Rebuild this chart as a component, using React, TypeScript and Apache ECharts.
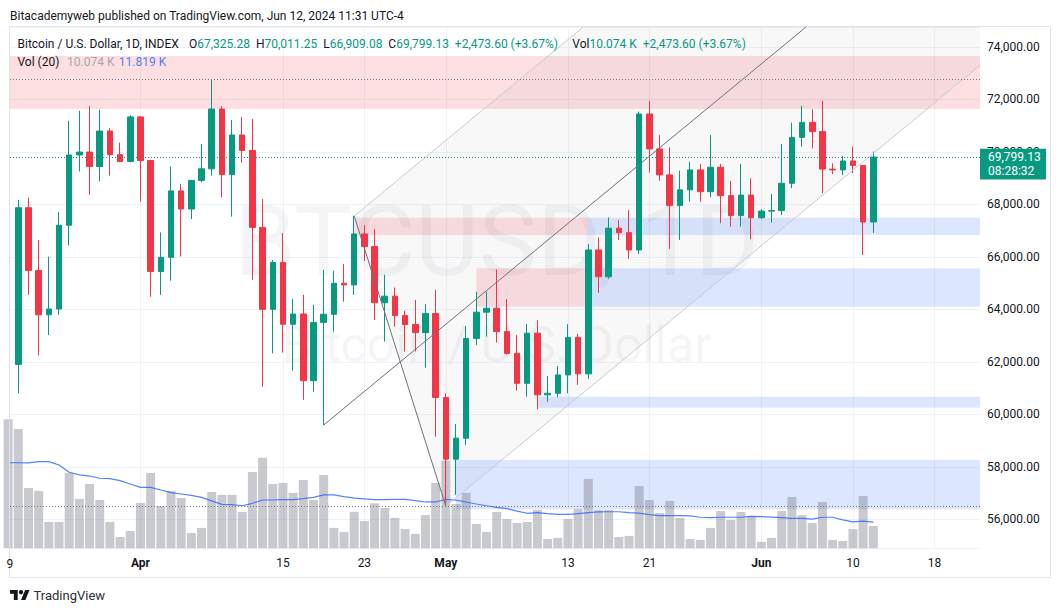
import React, { useEffect, useRef } from 'react';
import * as echarts from 'echarts';

// ---------------- data ----------------
const dates = [
  '2024-03-19','2024-03-20','2024-03-21','2024-03-22','2024-03-23','2024-03-24','2024-03-25','2024-03-26','2024-03-27','2024-03-28','2024-03-29','2024-03-30','2024-03-31',
  '2024-04-01','2024-04-02','2024-04-03','2024-04-04','2024-04-05','2024-04-06','2024-04-07','2024-04-08','2024-04-09','2024-04-10','2024-04-11','2024-04-12','2024-04-13','2024-04-14','2024-04-15',
  '2024-04-16','2024-04-17','2024-04-18','2024-04-19','2024-04-20','2024-04-21','2024-04-22','2024-04-23','2024-04-24','2024-04-25','2024-04-26','2024-04-27','2024-04-28','2024-04-29','2024-04-30',
  '2024-05-01','2024-05-02','2024-05-03','2024-05-04','2024-05-05','2024-05-06','2024-05-07','2024-05-08','2024-05-09','2024-05-10','2024-05-11','2024-05-12','2024-05-13','2024-05-14','2024-05-15',
  '2024-05-16','2024-05-17','2024-05-18','2024-05-19','2024-05-20','2024-05-21','2024-05-22','2024-05-23','2024-05-24','2024-05-25','2024-05-26','2024-05-27','2024-05-28','2024-05-29','2024-05-30','2024-05-31',
  '2024-06-01','2024-06-02','2024-06-03','2024-06-04','2024-06-05','2024-06-06','2024-06-07','2024-06-08','2024-06-09','2024-06-10','2024-06-11','2024-06-12',
];

const opens = [
  67600, 61900, 67870, 65480, 63790, 64010, 67200, 69880, 69990, 69440, 70790, 69890, 69630,
  71330, 69670, 65440, 65980, 68510, 67820, 68910, 69350, 71630, 69130, 70640, 70050, 67120, 64000, 65780,
  63430, 63820, 61280, 63500, 63810, 64990, 64930, 66870, 66390, 64250, 64500, 63760, 63420, 63110, 63840,
  60640, 58290, 59090, 62890, 63890, 64040, 63150, 62320, 61180, 63090, 60740, 60800, 61500, 62930, 61540,
  66260, 65240, 67090, 66920, 66260, 71440, 70110, 69120, 67950, 68550, 69310, 68480, 69410, 68330, 67570, 68350,
  67490, 67740, 67760, 68800, 70550, 71120, 70770, 69340, 69310, 69650, 69480, 67325.28,
];
const highs = [
  68100, 68170, 68250, 66640, 66000, 67700, 71180, 71560, 71750, 71600, 70900, 70350, 71400,
  71350, 69690, 66930, 69440, 68780, 68930, 70300, 72760, 71740, 71210, 71330, 71250, 68200, 65880, 66900,
  64390, 64550, 64170, 65500, 65470, 65730, 67560, 67210, 67050, 65310, 64830, 63950, 64360, 64200, 64740,
  60800, 59630, 63360, 64670, 64670, 65520, 64390, 63020, 63440, 63590, 61460, 61840, 63430, 63060, 66490,
  66740, 67500, 67400, 67780, 71530, 71940, 70640, 70170, 69280, 69620, 69540, 70640, 69540, 68890, 69540, 68990,
  67820, 68390, 70300, 71110, 71750, 71620, 71940, 69560, 69840, 70200, 69500, 70011.25,
];
const lows = [
  61550, 60800, 64550, 62240, 63020, 63790, 66430, 69250, 68360, 68870, 69090, 69600, 69600,
  68100, 64480, 64550, 65090, 66010, 67440, 68840, 69090, 68260, 67530, 69590, 65120, 61050, 62320, 62350,
  61660, 60550, 60860, 59590, 63150, 64290, 64550, 65840, 63590, 62770, 63340, 62390, 62390, 61780, 59150,
  56500, 56930, 58830, 62640, 62960, 62730, 62280, 60900, 60670, 60190, 60480, 60650, 60800, 61120, 61350,
  64630, 65160, 66640, 65920, 66110, 69210, 68900, 66300, 66640, 68100, 68100, 68270, 67280, 67150, 67150, 66670,
  67430, 67300, 67590, 68610, 70200, 70130, 68420, 69150, 69120, 69180, 66070, 66909.08,
];
const closes = [
  61900, 67870, 65480, 63790, 64010, 67200, 69880, 69990, 69440, 70790, 69890, 69630, 71330,
  69670, 65440, 65980, 68510, 67820, 68910, 69350, 71630, 69130, 70640, 70050, 67120, 64000, 65780, 63430,
  63820, 61280, 63500, 63810, 64990, 64930, 66870, 66390, 64250, 64500, 63760, 63420, 63110, 63840, 60640,
  58290, 59090, 62890, 63890, 64040, 63150, 62320, 61180, 63090, 60740, 60800, 61500, 62930, 61540, 66260,
  65240, 67090, 66920, 66260, 71440, 70110, 69120, 67950, 68550, 69310, 68480, 69410, 68330, 67570, 68350, 67490,
  67740, 67760, 68800, 70550, 71120, 70770, 69340, 69310, 69650, 69480, 67325.53, 69799.13,
];

// volume in thousands
const volumes = [
  58.2, 53.8, 27.2, 25.9, 11.9, 11.9, 34.0, 22.3, 29.0, 21.8, 11.9, 5.1, 7.8,
  20.5, 34.0, 19.1, 25.9, 22.7, 6.9, 9.2, 25.4, 24.1, 24.1, 16.4, 34.4, 40.8, 29.0, 29.5,
  25.0, 30.8, 21.8, 33.1, 9.2, 7.4, 16.4, 12.3, 20.3, 18.2, 13.7, 8.7, 6.5, 15.0, 29.5,
  39.5, 20.0, 25.0, 11.0, 7.4, 16.4, 13.2, 11.4, 11.9, 17.3, 4.2, 4.7, 13.2, 17.7, 31.3,
  17.3, 17.3, 5.1, 5.6, 28.1, 21.8, 15.9, 21.4, 13.7, 4.2, 3.8, 9.2, 16.8, 12.8, 16.4, 14.6,
  2.9, 4.7, 16.8, 23.2, 15.0, 11.4, 20.9, 3.8, 3.3, 8.7, 23.6, 10.074,
];
// Vol (20) moving average
const volumeMA20 = [
  38.6, 38.6, 38.5, 39.1, 39.1, 37.6, 34.3, 33.1, 32.6, 31.6, 31.4, 30.5, 29.0,
  27.5, 27.5, 26.3, 25.1, 24.5, 23.9, 23.0, 21.4, 19.8, 19.7, 19.2, 20.3, 21.8, 21.8, 22.0,
  22.0, 22.4, 23.0, 24.1, 24.1, 23.3, 22.6, 22.3, 22.0, 22.0, 22.1, 22.1, 21.5, 20.9, 20.9,
  22.1, 21.7, 20.9, 20.0, 19.2, 18.5, 17.9, 16.8, 15.8, 16.1, 15.6, 15.3, 15.3, 15.6, 16.1,
  16.4, 16.5, 16.5, 16.1, 15.9, 15.2, 14.7, 14.7, 14.7, 14.6, 14.0, 13.8, 14.0, 14.0, 14.0, 14.4,
  14.3, 14.1, 13.8, 13.5, 13.5, 13.2, 14.0, 14.0, 12.8, 11.9, 12.3, 11.819,
];

const timeTickDates = ['2024-04-01', '2024-04-15', '2024-04-23', '2024-05-01', '2024-05-13', '2024-05-21', '2024-06-01', '2024-06-10', '2024-06-18'];
const timeTickLabels = ['Apr', '15', '23', 'May', '13', '21', 'Jun', '10', '18'];
const monthLabels = ['Apr', 'May', 'Jun'];

// zones: [fromDate (null = left edge), toDate (null = right edge), low, high]
const resistanceZones: [string | null, string | null, number, number][] = [
  [null, null, 71630, 73650],
  ['2024-04-22', '2024-05-15', 66830, 67490],
  ['2024-05-04', '2024-05-15', 64100, 65560],
];
const supportZones: [string | null, string | null, number, number][] = [
  ['2024-05-15', null, 66830, 67490],
  ['2024-05-15', null, 64100, 65560],
  ['2024-05-10', null, 60250, 60670],
  ['2024-05-02', null, 56380, 58260],
];
const grayLevels = [72762, 56495];

// drawings: anchor points [date, price], slope in $ per day
const channelSlope = 320;
const risingTrendStart: [string, number] = ['2024-04-19', 59590];
const channelUpperStart: [string, number] = ['2024-04-22', 67555];
const channelLowerStart: [string, number] = ['2024-05-01', 56500];
const fallingLine: [string, number][] = [['2024-04-22', 67555], ['2024-05-01', 56500]];

// ---------------- helpers ----------------
const FONT = 'Roboto, "Liberation Sans", sans-serif';
const UP = '#089981';
const DOWN = '#f23645';
const TEXT = '#131722';

const BASE = Date.parse('2024-04-01');
const dayIndex = (s: string) => (Date.parse(s) - BASE) / 86400000;

const X_MIN = -12.815;
const X_MAX = 82.48;
const Y_MIN = 54895;
const Y_MAX = 74754;
const VOL_MAX = 60;

const tickDays = timeTickDates.map(dayIndex);
const fmtPrice = (v: number) => v.toLocaleString('en-US', { minimumFractionDigits: 2, maximumFractionDigits: 2 });

function extendToEdge(d0: number, p0: number, slope: number): [number, number] {
  let d = d0 + (Y_MAX - p0) / slope;
  if (d > X_MAX) d = X_MAX;
  return [d, p0 + slope * (d - d0)];
}

function buildOption() {
  // candles whose centre is outside the visible window are not drawn
  const candleData = dates
    .map((s, i) => [dayIndex(s), opens[i], closes[i], lows[i], highs[i]])
    .filter((c) => c[0] >= X_MIN && c[0] <= X_MAX);
  const volData = dates.map((s, i) => [dayIndex(s), volumes[i]]);
  const maData = dates.map((s, i) => [dayIndex(s), volumeMA20[i]]);

  const zoneItem = (z: [string | null, string | null, number, number], color: string) => [
    { xAxis: z[0] ? dayIndex(z[0]) : X_MIN, yAxis: z[2], itemStyle: { color } },
    { xAxis: z[1] ? dayIndex(z[1]) : X_MAX, yAxis: z[3] },
  ];

  const upA: [number, number] = [dayIndex(channelUpperStart[0]), channelUpperStart[1]];
  const loA: [number, number] = [dayIndex(channelLowerStart[0]), channelLowerStart[1]];
  const upEnd = extendToEdge(upA[0], upA[1], channelSlope);
  const loEnd = extendToEdge(loA[0], loA[1], channelSlope);
  const channelPts: [number, number][] = [upA, loA, loEnd];
  if (loEnd[1] < Y_MAX) channelPts.push([X_MAX, Y_MAX]);
  channelPts.push(upEnd);

  const rsA: [number, number] = [dayIndex(risingTrendStart[0]), risingTrendStart[1]];
  const rsEnd = extendToEdge(rsA[0], rsA[1], channelSlope);

  const lineSeries = (pts: number[][], color: string) => ({
    type: 'line',
    xAxisIndex: 0,
    yAxisIndex: 0,
    data: pts,
    symbol: 'none',
    silent: true,
    z: 4,
    lineStyle: { color, width: 1 },
    emphasis: { disabled: true },
  });

  return {
    animation: false,
    backgroundColor: '#ffffff',
    textStyle: { fontFamily: FONT },
    grid: [
      { left: 10, right: 80, top: 27, bottom: 63.7, outerBoundsMode: 'none' },
      { left: 10, right: 80, top: 415.3, bottom: 63.7, outerBoundsMode: 'none' },
    ],
    xAxis: [
      {
        gridIndex: 0,
        type: 'value',
        min: X_MIN,
        max: X_MAX,
        axisLine: { show: false },
        axisTick: { show: false, customValues: tickDays },
        splitLine: { show: true, lineStyle: { color: '#eff2f8', width: 1 } },
        axisLabel: {
          customValues: tickDays,
          color: TEXT,
          fontSize: 12,
          fontFamily: FONT,
          margin: 9,
          formatter: (v: number) => {
            const i = tickDays.findIndex((t) => Math.abs(t - v) < 0.01);
            if (i < 0) return '';
            const s = timeTickLabels[i];
            return monthLabels.includes(s) ? `{b|${s}}` : s;
          },
          rich: { b: { fontWeight: 'bold', color: TEXT, fontSize: 12, fontFamily: FONT } },
        },
      },
      { gridIndex: 1, type: 'value', min: X_MIN, max: X_MAX, show: false },
    ],
    yAxis: [
      {
        gridIndex: 0,
        type: 'value',
        position: 'right',
        min: Y_MIN,
        max: Y_MAX,
        splitNumber: 10,
        axisLine: { show: false },
        axisTick: { show: false },
        splitLine: { show: true, lineStyle: { color: '#eff2f8', width: 1 } },
        axisLabel: {
          showMinLabel: false,
          showMaxLabel: false,
          color: TEXT,
          fontSize: 12,
          fontFamily: FONT,
          margin: 7,
          formatter: (v: number) => fmtPrice(v),
        },
      },
      { gridIndex: 1, type: 'value', min: 0, max: VOL_MAX, show: false },
    ],
    series: [
      {
        type: 'custom',
        xAxisIndex: 0,
        yAxisIndex: 0,
        z: 1,
        silent: true,
        data: [upA],
        renderItem: (_p: any, api: any) => ({
          type: 'polygon',
          shape: { points: channelPts.map((pt) => api.coord(pt)) },
          style: { fill: 'rgba(120,123,134,0.05)' },
          silent: true,
        }),
      },
      {
        type: 'bar',
        xAxisIndex: 1,
        yAxisIndex: 1,
        data: volData,
        barWidth: 9,
        z: 1,
        silent: true,
        itemStyle: { color: 'rgba(120,123,134,0.4)' },
      },
      {
        type: 'line',
        xAxisIndex: 1,
        yAxisIndex: 1,
        data: maData,
        symbol: 'none',
        z: 2,
        silent: true,
        lineStyle: { color: 'rgba(41,98,255,0.8)', width: 1.2 },
      },
      {
        type: 'candlestick',
        xAxisIndex: 0,
        yAxisIndex: 0,
        data: candleData,
        barWidth: 6,
        z: 3,
        silent: true,
        itemStyle: { color: UP, color0: DOWN, borderColor: UP, borderColor0: DOWN, borderWidth: 1 },
        markArea: {
          silent: true,
          data: [
            ...resistanceZones.map((z) => zoneItem(z, 'rgba(242,54,69,0.16)')),
            ...supportZones.map((z) => zoneItem(z, 'rgba(41,98,255,0.16)')),
          ],
        },
        markLine: {
          silent: true,
          symbol: ['none', 'none'],
          label: { show: false },
          data: [
            ...grayLevels.map((v) => ({ yAxis: v, lineStyle: { color: '#787b86', width: 1, type: [1, 2] } })),
            { yAxis: closes[closes.length - 1], lineStyle: { color: UP, width: 1, type: [1, 2] } },
          ],
        },
      },
      lineSeries([rsA, rsEnd], '#6f727d'),
      lineSeries(fallingLine.map((p) => [dayIndex(p[0]), p[1]]), '#6f727d'),
      lineSeries([upA, upEnd], '#c9cbd2'),
      lineSeries([loA, loEnd], '#c9cbd2'),
    ],
  };
}

function buildGraphics(yLast: number) {
  const txt = (x: number, y: number, text: string, extra: any = {}) => ({
    type: 'text',
    x,
    y,
    z: 100,
    silent: true,
    style: { text, fill: TEXT, font: `12px ${FONT}`, textVerticalAlign: 'middle', ...extra },
  });
  const rich = {
    l: { fill: TEXT, fontSize: 12, fontFamily: FONT },
    v: { fill: UP, fontSize: 12, fontFamily: FONT },
  } as any;
  const richTxt = (x: number, y: number, text: string) => ({
    type: 'text', x, y, z: 100, silent: true,
    style: { text, rich, font: `12px ${FONT}`, fill: TEXT, textVerticalAlign: 'middle' },
  });
  const last = closes[closes.length - 1];
  const n = opens.length - 1;
  const L1 = 43.5;
  const L2 = 61.5;
  const ohlc =
    `{l|O}{v|${fmtPrice(opens[n])}}  {l|H}{v|${fmtPrice(highs[n])}}  ` +
    `{l|L}{v|${fmtPrice(lows[n])}}  {l|C}{v|${fmtPrice(last)}}  {v|+2,473.60 (+3.67%)}`;
  return [
    // frame
    {
      type: 'rect', z: 90, silent: true,
      shape: { x: 9.5, y: 26.5, width: 1041, height: 551 },
      style: { fill: 'none', stroke: '#e0e3eb', lineWidth: 1 },
    },
    // watermark
    {
      type: 'text', x: 497, y: 241.5, z: 0, silent: true,
      style: { text: 'BTCUSD, 1D', fill: 'rgba(120,123,134,0.08)', font: `98px ${FONT}`, textAlign: 'center', textVerticalAlign: 'middle' },
    },
    {
      type: 'text', x: 496, y: 345, z: 0, silent: true,
      style: { text: 'Bitcoin / U.S. Dollar', fill: 'rgba(120,123,134,0.08)', font: `50px ${FONT}`, textAlign: 'center', textVerticalAlign: 'middle' },
    },
    // header
    txt(10, 15.5, 'Bitacademyweb published on TradingView.com, Jun 12, 2024 11:31 UTC-4'),
    // legend
    txt(17.5, L1, 'Bitcoin / U.S. Dollar, 1D, INDEX'),
    richTxt(189, L1, ohlc),
    richTxt(572.3, L1, '{l|Vol}{v|10.074 K}  {v|+2,473.60 (+3.67%)}'),
    txt(17.5, L2, 'Vol (20)'),
    txt(67.1, L2, '10.074 K', { fill: '#a3a6af' }),
    txt(118.8, L2, '11.819 K', { fill: '#4f7ff5' }),
    // clipped first date label
    txt(6.5, 564, '9'),
    // last price label
    {
      type: 'rect', z: 95, silent: true,
      shape: { x: 980, y: yLast - 8.3, width: 66, height: 30.7 },
      style: { fill: UP },
    },
    txt(988, yLast, fmtPrice(last), { fill: '#ffffff' }),
    txt(988, yLast + 13.5, '08:28:32', { fill: '#ffffff' }),
    // footer logo
    {
      type: 'group', x: 10, y: 587.8, scaleX: 0.55, scaleY: 0.55, z: 100, silent: true,
      children: [
        { type: 'polygon', shape: { points: [[14, 22], [7, 22], [7, 11], [0, 11], [0, 4], [14, 4]] }, style: { fill: TEXT } },
        { type: 'polygon', shape: { points: [[28, 22], [20, 22], [27.5, 4], [35.5, 4]] }, style: { fill: TEXT } },
        { type: 'circle', shape: { cx: 20, cy: 8, r: 4 }, style: { fill: TEXT } },
      ],
    },
    txt(33.5, 595, 'TradingView', { font: `13px ${FONT}`, fill: '#2a2e39' }),
  ];
}

export default function App() {
  const ref = useRef<HTMLDivElement>(null);
  useEffect(() => {
    document.body.style.margin = '0';
    const chart = echarts.init(ref.current as HTMLDivElement, undefined, { renderer: 'svg' });
    chart.setOption(buildOption() as any);
    const pt = chart.convertToPixel({ gridIndex: 0 } as any, [X_MIN, closes[closes.length - 1]]) as number[];
    chart.setOption({ graphic: buildGraphics(pt[1]) } as any);
    return () => chart.dispose();
  }, []);
  return <div ref={ref} style={{ position: 'absolute', left: 0, top: 0, width: 1060, height: 612 }} />;
}
